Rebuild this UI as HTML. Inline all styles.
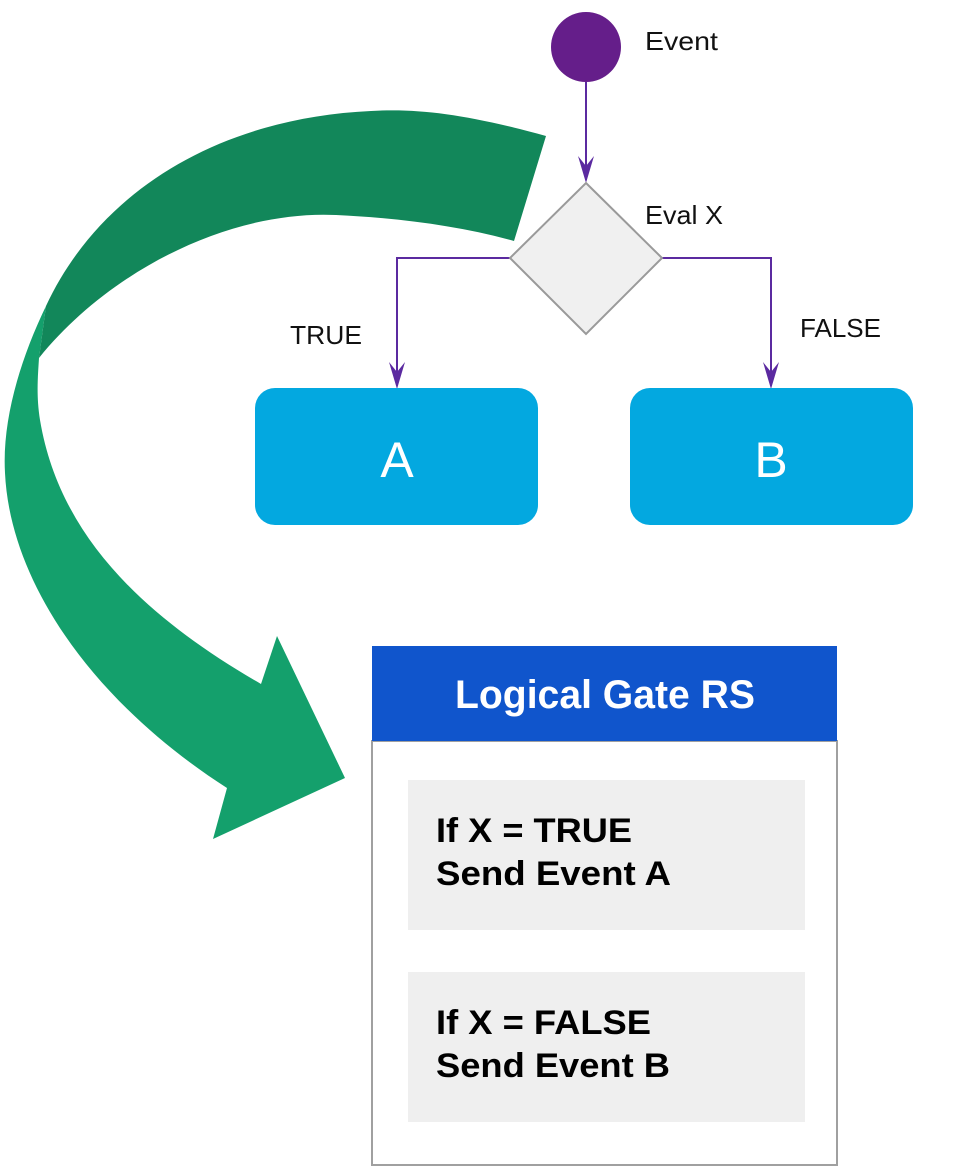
<!DOCTYPE html>
<html><head><meta charset="utf-8"><style>html,body{margin:0;padding:0;background:#fff}svg{display:block}</style></head>
<body>
<svg width="977" height="1170" viewBox="0 0 977 1170" xmlns="http://www.w3.org/2000/svg">
<!-- light green lower part -->
<path d="M46,306 C20,360 2,420 5,473 C10,580 90,700 227,788 L213,839 L345,778 L277,636 L261,684 C150,620 60,540 40,420 C36,395 38,375 39,358 Z" fill="#14a06c"/>
<!-- dark green upper part -->
<path d="M546,136 C470,115 420,108 371,111 C220,118 100,190 46,306 L39,358 C110,270 230,210 336,215 C400,218 460,226 514,241 Z" fill="#12875a"/>
<!-- connectors -->
<g stroke="#5b2aa0" stroke-width="2" fill="none">
<line x1="586" y1="82" x2="586" y2="180"/>
<polyline points="510,258 397,258 397,385"/>
<polyline points="662,258 771,258 771,385"/>
</g>
<g fill="#5b2aa0">
<polygon points="578,156 586,183 594,156 586,166"/>
<polygon points="389,362 397,389 405,362 397,372"/>
<polygon points="763,362 771,389 779,362 771,372"/>
</g>
<circle cx="586" cy="47" r="35" fill="#651e8a"/>
<polygon points="586,183 662,258 586,334 510,258" fill="#f0f0f0" stroke="#9a9a9a" stroke-width="2"/>
<g font-family="Liberation Sans, sans-serif" font-size="26" fill="#111">
<text x="645" y="50" textLength="73" lengthAdjust="spacingAndGlyphs">Event</text>
<text x="645" y="224" textLength="78" lengthAdjust="spacingAndGlyphs">Eval X</text>
<text x="290" y="344" textLength="72" lengthAdjust="spacingAndGlyphs">TRUE</text>
<text x="800" y="337" textLength="81" lengthAdjust="spacingAndGlyphs">FALSE</text>
</g>
<rect x="255" y="388" width="283" height="137" rx="20" fill="#03a8e0"/>
<rect x="630" y="388" width="283" height="137" rx="20" fill="#03a8e0"/>
<g font-family="Liberation Sans, sans-serif" font-size="50" fill="#fff" text-anchor="middle">
<text x="397" y="477">A</text>
<text x="771" y="477">B</text>
</g>
<rect x="372" y="741" width="465" height="424" fill="#fff" stroke="#a0a0a0" stroke-width="2"/>
<rect x="372" y="646" width="465" height="95" fill="#1055cc"/>
<text x="605" y="708" font-family="Liberation Sans, sans-serif" font-weight="bold" font-size="40" fill="#fff" text-anchor="middle" textLength="300" lengthAdjust="spacingAndGlyphs">Logical Gate RS</text>
<rect x="408" y="780" width="397" height="150" fill="#efefef"/>
<rect x="408" y="972" width="397" height="150" fill="#efefef"/>
<g font-family="Liberation Sans, sans-serif" font-weight="bold" font-size="34" fill="#000">
<text x="436" y="842" textLength="196" lengthAdjust="spacingAndGlyphs">If X = TRUE</text>
<text x="436" y="885" textLength="235" lengthAdjust="spacingAndGlyphs">Send Event A</text>
<text x="436" y="1034" textLength="215" lengthAdjust="spacingAndGlyphs">If X = FALSE</text>
<text x="436" y="1077" textLength="234" lengthAdjust="spacingAndGlyphs">Send Event B</text>
</g>
</svg>
</body></html>
